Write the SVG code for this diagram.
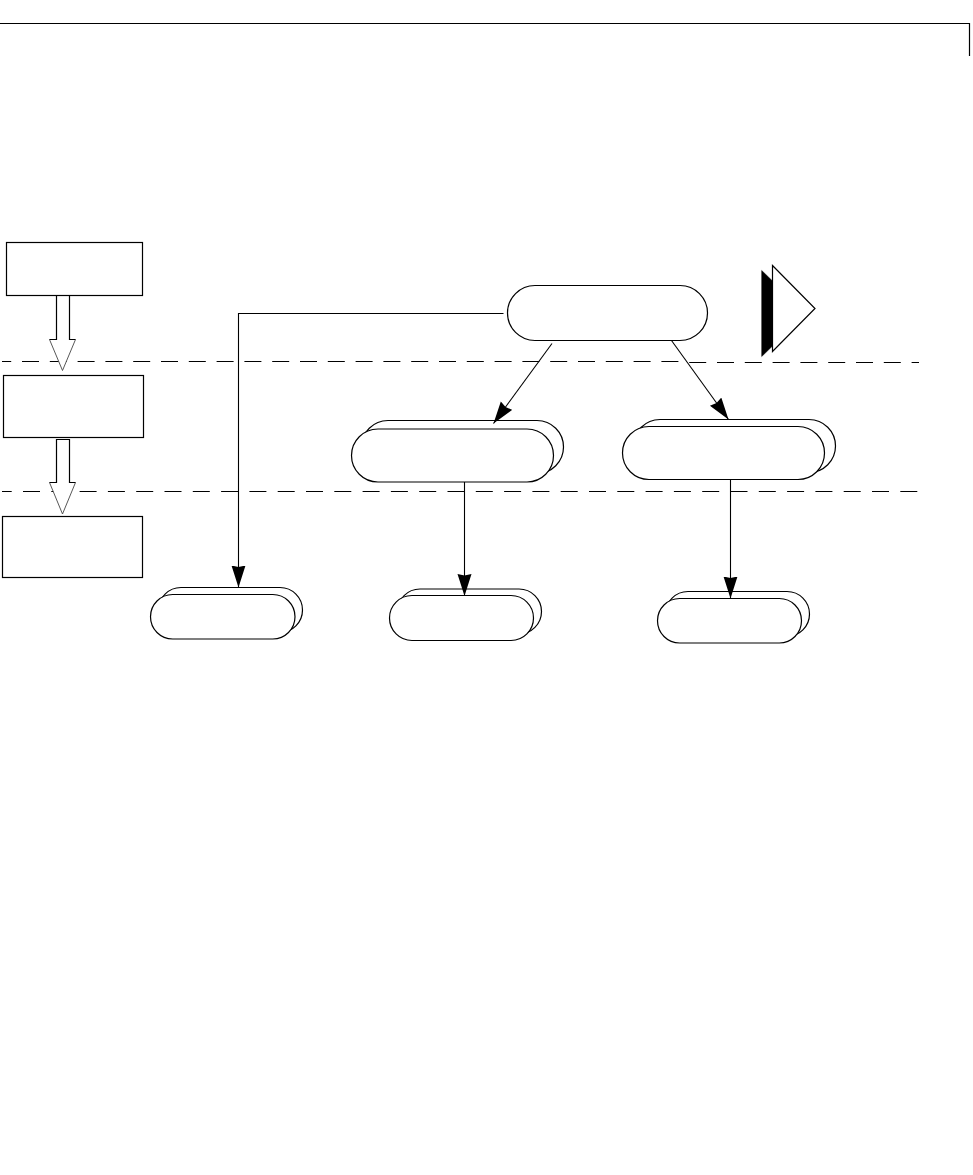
<svg xmlns="http://www.w3.org/2000/svg" width="973" height="1175" viewBox="0 0 973 1175">
  <style>
    .s { fill: #fff; stroke: #000; stroke-width: 1.2; }
    .h { fill: #fff; stroke: #444; stroke-width: 0.9; }
    .o { fill: none; stroke: #000; stroke-width: 1.2; }
    .c { fill: none; stroke: #000; stroke-width: 1.1; }
    .d { fill: none; stroke: #000; stroke-width: 1.1; }
  </style>
  <defs>
    <marker id="ah" markerUnits="userSpaceOnUse" markerWidth="24" markerHeight="16" refX="22" refY="7" orient="auto">
      <path d="M22,7 L0,0 L1.5,7 L0,14 Z" fill="#000"/>
    </marker>
  </defs>
  <rect width="973" height="1175" fill="#fff"/>
  <g id="page-rule"><path class="o" d="M0,23.5 H969.5 V56"/></g>
  <g id="dividers">
    <path class="d" d="M2,361.5 H686" stroke-dasharray="17 10.8" stroke-dashoffset="7.8"/>
    <path class="d" d="M689.2,362.5 H919" stroke-dasharray="17 10.8"/>
    <path class="d" d="M2,491.5 H918.5" stroke-dasharray="17 11.3" stroke-dashoffset="7.3"/>
  </g>
  <g id="box-1"><rect class="s" x="6.5" y="242.5" width="136" height="53"/></g>
  <g id="box-2"><rect class="s" x="3.5" y="375.5" width="140" height="62"/></g>
  <g id="box-3"><rect class="s" x="2.5" y="516.5" width="140" height="61"/></g>
  <g id="hollow-arrow-1">
    <path class="h" d="M49.5,339.5 L62.5,370.5 L75.5,339.5"/>
    <path class="o" d="M56.5,295.5 V339.5 H49.5 M69.5,295.5 V339.5 H75.5"/>
  </g>
  <g id="hollow-arrow-2">
    <path class="h" d="M49.5,482.5 L62.5,514 L75.5,482.5"/>
    <path class="o" d="M49.5,482.5 H56.5 V439.5 H69.5 V482.5 H75.5"/>
  </g>
  <g id="pill-top"><rect class="s" x="507.5" y="285.5" width="200" height="55" rx="27.5"/></g>
  <g id="pill-mid-left">
    <rect class="s" x="361.5" y="420.5" width="202" height="53" rx="26.5"/>
    <rect class="s" x="351.5" y="429" width="202" height="53" rx="26.5"/>
  </g>
  <g id="pill-mid-right">
    <rect class="s" x="633.5" y="419.5" width="202" height="53" rx="26.5"/>
    <rect class="s" x="622.5" y="426.5" width="202" height="53" rx="26.5"/>
  </g>
  <g id="pill-low-1">
    <rect class="s" x="158.5" y="587.5" width="144" height="45" rx="22.5"/>
    <rect class="s" x="150.5" y="594.5" width="144.5" height="44.5" rx="22.2"/>
  </g>
  <g id="pill-low-2">
    <rect class="s" x="397.5" y="589" width="144" height="45" rx="22.5"/>
    <rect class="s" x="389.5" y="595.5" width="144" height="45" rx="22.5"/>
  </g>
  <g id="pill-low-3">
    <rect class="s" x="665.5" y="591.5" width="144" height="45" rx="22.5"/>
    <rect class="s" x="657.5" y="598.5" width="144" height="44.5" rx="22.2"/>
  </g>
  <g id="connectors">
    <path class="c" d="M503.5,313.5 H238.5 V587.5" marker-end="url(#ah)"/>
    <path class="c" d="M552,343.5 L493.5,423.5" marker-end="url(#ah)"/>
    <path class="c" d="M671.5,340.5 L728.5,419.5" marker-end="url(#ah)"/>
    <path class="c" d="M464.5,482 V596" marker-end="url(#ah)"/>
    <path class="c" d="M730.5,479 V598.5" marker-end="url(#ah)"/>
  </g>
  <g id="delay-symbol">
    <path d="M761.7,270.5 L772.5,281 V346 L761.7,356.5 Z" fill="#000" stroke="#000" stroke-width="0.5"/>
    <path class="s" d="M772.5,265.5 L815,308.5 L772.5,351.5 Z"/>
  </g>
</svg>
